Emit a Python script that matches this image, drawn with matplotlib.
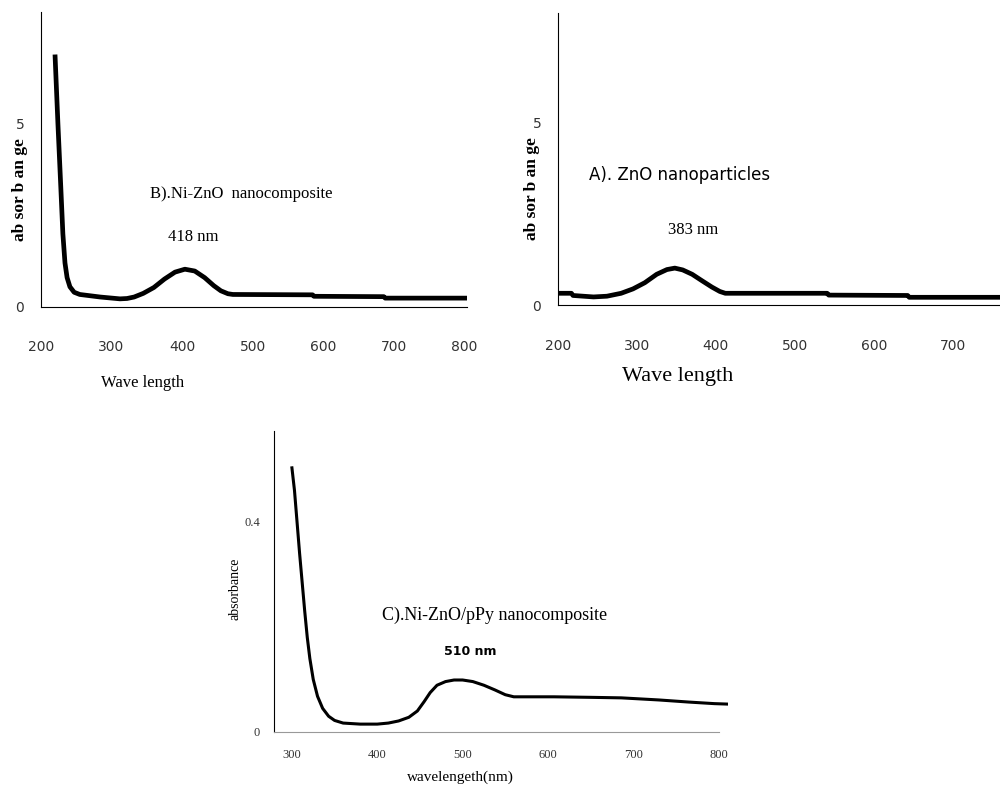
import matplotlib
matplotlib.use('Agg')
import matplotlib.pyplot as plt

# B) Ni-ZnO nanocomposite
wl_b = [220, 224, 228, 231, 234, 237, 241, 247, 255, 284, 312, 322, 332, 345, 360, 375,
        390, 404, 418, 432, 445, 455, 465, 472, 585, 587, 686, 688, 804]
abs_b = [6.83, 5.0, 3.3, 2.0, 1.2, 0.8, 0.55, 0.40, 0.34, 0.27, 0.22, 0.23, 0.27, 0.37,
         0.53, 0.76, 0.95, 1.03, 0.98, 0.80, 0.58, 0.44, 0.36, 0.34, 0.33, 0.29, 0.28,
         0.24, 0.24]

# A) ZnO nanoparticles
wl_a = [200, 217, 219, 245, 262, 280, 295, 310, 325, 338, 348, 358, 370, 382, 395, 405,
        412, 541, 543, 643, 645, 760]
abs_a = [0.33, 0.33, 0.27, 0.23, 0.25, 0.33, 0.45, 0.62, 0.85, 0.98, 1.02, 0.97, 0.85,
         0.68, 0.50, 0.38, 0.33, 0.33, 0.28, 0.27, 0.22, 0.22]

# C) Ni-ZnO/pPy nanocomposite
wl_c = [300, 303, 306, 309, 312, 315, 318, 321, 325, 330, 336, 343, 350, 360, 380, 400,
        413, 425, 437, 447, 455, 462, 470, 480, 490, 500, 512, 525, 538, 550, 560, 607,
        650, 686, 730, 765, 795, 813]
abs_c = [0.503, 0.46, 0.40, 0.34, 0.285, 0.23, 0.18, 0.14, 0.10, 0.068, 0.045, 0.030,
         0.022, 0.017, 0.015, 0.015, 0.017, 0.021, 0.028, 0.040, 0.058, 0.075, 0.089,
         0.096, 0.099, 0.099, 0.096, 0.089, 0.080, 0.071, 0.067, 0.067, 0.066, 0.065,
         0.061, 0.057, 0.054, 0.053]

ticks_top = [200, 300, 400, 500, 600, 700, 800]
ticks_a = [200, 300, 400, 500, 600, 700]
ticks_c = [300, 400, 500, 600, 700, 800]

serif = ['Liberation Serif', 'DejaVu Serif']
narrow = ['Liberation Sans Narrow', 'DejaVu Sans']

fig = plt.figure(figsize=(10, 7.91), dpi=100)


def style(ax, xticks, yticks, ylabels, xpad, ypad, fs, fam):
    for s in ['top', 'right']:
        ax.spines[s].set_visible(False)
    ax.set_xticks(xticks)
    ax.set_xticklabels([str(t) for t in xticks], family=fam, fontsize=fs, color='#333333')
    ax.set_yticks(yticks)
    ax.set_yticklabels(ylabels, family=fam, fontsize=fs, color='#333333')
    ax.tick_params(length=0)
    ax.tick_params(axis='x', pad=xpad)
    ax.tick_params(axis='y', pad=ypad)


# panel B
ax_b = fig.add_axes([0.041, 0.612, 0.426, 0.373])
ax_b.plot(wl_b, abs_b, color='black', lw=3.4, solid_joinstyle='round')
ax_b.set_xlim(200, 804)
ax_b.set_ylim(0, 8.06)
style(ax_b, ticks_top, [0, 5], ['0', '5'], 24, 12, 10, narrow)
fig.text(0.02, 0.76, 'ab sor b an ge', rotation=90, family=serif, fontweight='bold',
         fontsize=12.5, ha='center', va='center')
fig.text(0.143, 0.516, 'Wave length', family=serif, fontsize=12, ha='center', va='center')
ax_b.text(200 + (241 - 41) / 0.705, (307 - 194) / 36.6, 'B).Ni-ZnO  nanocomposite',
          family=serif, fontsize=12, ha='center', va='center')
ax_b.text(200 + (193 - 41) / 0.705, (307 - 237) / 36.6, '418 nm',
          family=serif, fontsize=12, ha='center', va='center')

# panel A
ax_a = fig.add_axes([0.558, 0.614, 0.442, 0.370])
ax_a.plot(wl_a, abs_a, color='black', lw=3.4, solid_joinstyle='round')
ax_a.set_xlim(200, 760)
ax_a.set_ylim(0, 8.02)
style(ax_a, ticks_a, [0, 5], ['0', '5'], 24, 12, 10, narrow)
fig.text(0.532, 0.762, 'ab sor b an ge', rotation=90, family=serif, fontweight='bold',
         fontsize=12.5, ha='center', va='center')
fig.text(0.678, 0.524, 'Wave length', family=serif, fontsize=16, ha='center', va='center')
ax_a.text(200 + (680 - 558) / 0.79, (305 - 175) / 36.4, 'A). ZnO nanoparticles',
          family=narrow, fontsize=12, ha='center', va='center')
ax_a.text(200 + (693 - 558) / 0.79, (305 - 230) / 36.4, '383 nm',
          family=serif, fontsize=12, ha='center', va='center')

# panel C
ax_c = fig.add_axes([0.274, 0.0746, 0.454, 0.3804])
ax_c.plot(wl_c, abs_c, color='black', lw=2.2)
ax_c.set_xlim(279, 811)
ax_c.set_ylim(0, 0.573)
ax_c.spines['bottom'].set_bounds(279, 800)
ax_c.spines['bottom'].set_color('#999999')
style(ax_c, ticks_c, [0, 0.4], ['0', '0.4'], 12, 10, 9, serif)
fig.text(0.235, 0.255, 'absorbance', rotation=90, family=serif, fontsize=10,
         ha='center', va='center')
fig.text(0.46, 0.018, 'wavelengeth(nm)', family=serif, fontsize=11, ha='center', va='center')
ax_c.text(279 + (495 - 274) / 0.854, (732 - 615) / 525, 'C).Ni-ZnO/pPy nanocomposite',
          family=serif, fontsize=13, ha='center', va='center')
ax_c.text(279 + (470 - 274) / 0.854, (732 - 652) / 525, '510 nm',
          family=['DejaVu Sans'], fontweight='bold', fontsize=9, ha='center', va='center')

fig.savefig('out.png', dpi=100)
